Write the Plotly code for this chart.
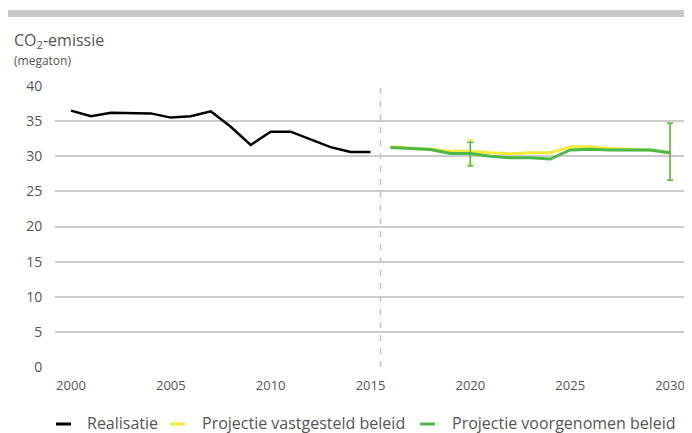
import plotly.graph_objects as go

# Realisatie (historisch)
jaren_real = list(range(2000, 2016))
emissie_real = [36.5, 35.7, 36.2, 36.2, 36.1, 35.5, 35.7, 36.4, 34.2, 31.6,
                33.5, 33.5, 32.4, 31.3, 30.6, 30.6]

# Projecties
jaren_proj = list(range(2016, 2031))
emissie_vastgesteld = [31.35, 31.2, 31.0, 30.7, 30.7, 30.5, 30.35, 30.5, 30.5,
                       31.35, 31.35, 31.1, 31.0, 30.9, 30.5]
emissie_voorgenomen = [31.25, 31.1, 30.95, 30.4, 30.4, 30.0, 29.8, 29.8, 29.6,
                       30.9, 31.0, 30.9, 30.9, 30.9, 30.5]

# Onzekerheidsbanden
jaren_band = [2020, 2030]
vastgesteld_band = [30.7, 30.5]
vastgesteld_boven = [1.6, 4.2]
vastgesteld_onder = [1.8, 3.9]
voorgenomen_band = [30.4, 30.5]
voorgenomen_boven = [1.6, 4.2]
voorgenomen_onder = [1.8, 3.9]

x_ticks = [2000, 2005, 2010, 2015, 2020, 2025, 2030]
y_ticks = [0, 5, 10, 15, 20, 25, 30, 35, 40]

ZWART = '#000000'
GEEL = '#f5e93a'
GROEN = '#4cb848'
TEKST = '#555555'

# de pagina heeft 8px marge rond de figuur
MARGE = 8
FIG_W, FIG_H = 692 - MARGE, 433 - MARGE
L, T, W, H = 55, 86, 637, 281   # plotgebied in paginapixels


def px_x(p):
    return (p - L) / W


def px_y(p):
    return (T + H - p) / H


fig = go.Figure()

fig.add_trace(go.Scatter(
    x=jaren_real, y=emissie_real, mode='lines',
    line=dict(color=ZWART, width=2.5), showlegend=False
))
fig.add_trace(go.Scatter(
    x=jaren_proj, y=emissie_vastgesteld, mode='lines',
    line=dict(color=GEEL, width=3), showlegend=False
))
fig.add_trace(go.Scatter(
    x=jaren_band, y=vastgesteld_band, mode='markers',
    marker=dict(size=1, opacity=0), showlegend=False,
    error_y=dict(type='data', symmetric=False, array=vastgesteld_boven,
                 arrayminus=vastgesteld_onder, color=GEEL, thickness=1.5, width=3)
))
fig.add_trace(go.Scatter(
    x=jaren_proj, y=emissie_voorgenomen, mode='lines',
    line=dict(color=GROEN, width=3), showlegend=False
))
fig.add_trace(go.Scatter(
    x=jaren_band, y=voorgenomen_band, mode='markers',
    marker=dict(size=1, opacity=0), showlegend=False,
    error_y=dict(type='data', symmetric=False, array=voorgenomen_boven,
                 arrayminus=voorgenomen_onder, color=GROEN, thickness=1.5, width=3)
))

# grijze balk bovenaan
fig.add_shape(type='rect', xref='paper', yref='paper',
              x0=px_x(8), x1=px_x(700), y0=px_y(17), y1=px_y(10),
              fillcolor='#c8c8c8', line=dict(width=0), layer='above')

# scheiding realisatie / projectie
fig.add_shape(type='line', xref='x', yref='paper', x0=2015.5, x1=2015.5, y0=0, y1=1,
              line=dict(color='#c4c4c4', width=1.5, dash='6px,7px'))

# eigen legenda
legenda = [
    (56, 71, 85, ZWART, 'Realisatie'),
    (170, 185, 200, GEEL, 'Projectie vastgesteld beleid'),
    (420, 435, 450, GROEN, 'Projectie voorgenomen beleid'),
]
for x0, x1, xt, kleur, naam in legenda:
    fig.add_shape(type='line', xref='paper', yref='paper',
                  x0=px_x(x0), x1=px_x(x1), y0=px_y(424), y1=px_y(424),
                  line=dict(color=kleur, width=3))
    fig.add_annotation(xref='paper', yref='paper', x=px_x(xt), y=px_y(423),
                       text=naam, showarrow=False, xanchor='left', yanchor='middle',
                       font=dict(size=16, color=TEKST))

fig.add_annotation(xref='paper', yref='paper', x=px_x(12), y=px_y(40),
                   text='CO<sub>2</sub>-emissie', showarrow=False,
                   xanchor='left', yanchor='middle', font=dict(size=16, color=TEKST))
fig.add_annotation(xref='paper', yref='paper', x=px_x(12), y=px_y(60),
                   text='(megaton)', showarrow=False,
                   xanchor='left', yanchor='middle', font=dict(size=12, color=TEKST))

fig.update_layout(
    width=FIG_W, height=FIG_H,
    margin=dict(l=L - MARGE, r=0, t=T - MARGE, b=FIG_H - (T - MARGE) - H),
    plot_bgcolor='white', paper_bgcolor='white',
    font=dict(family='Open Sans', color=TEKST, size=14),
    showlegend=False,
)
fig.update_xaxes(
    range=[1999.2, 2031.1], tickvals=x_ticks, showgrid=False, zeroline=False,
    ticks='outside', ticklen=6, tickcolor='white', showline=False,
    tickfont=dict(size=13, color=TEKST)
)
fig.update_yaxes(
    range=[0, 40], tickvals=y_ticks, showgrid=True, gridcolor='#cccccc', gridwidth=1.5,
    zeroline=False, ticks='outside', ticklen=9, tickcolor='white',
    tickfont=dict(size=14, color=TEKST)
)

fig.write_html("out.html")
